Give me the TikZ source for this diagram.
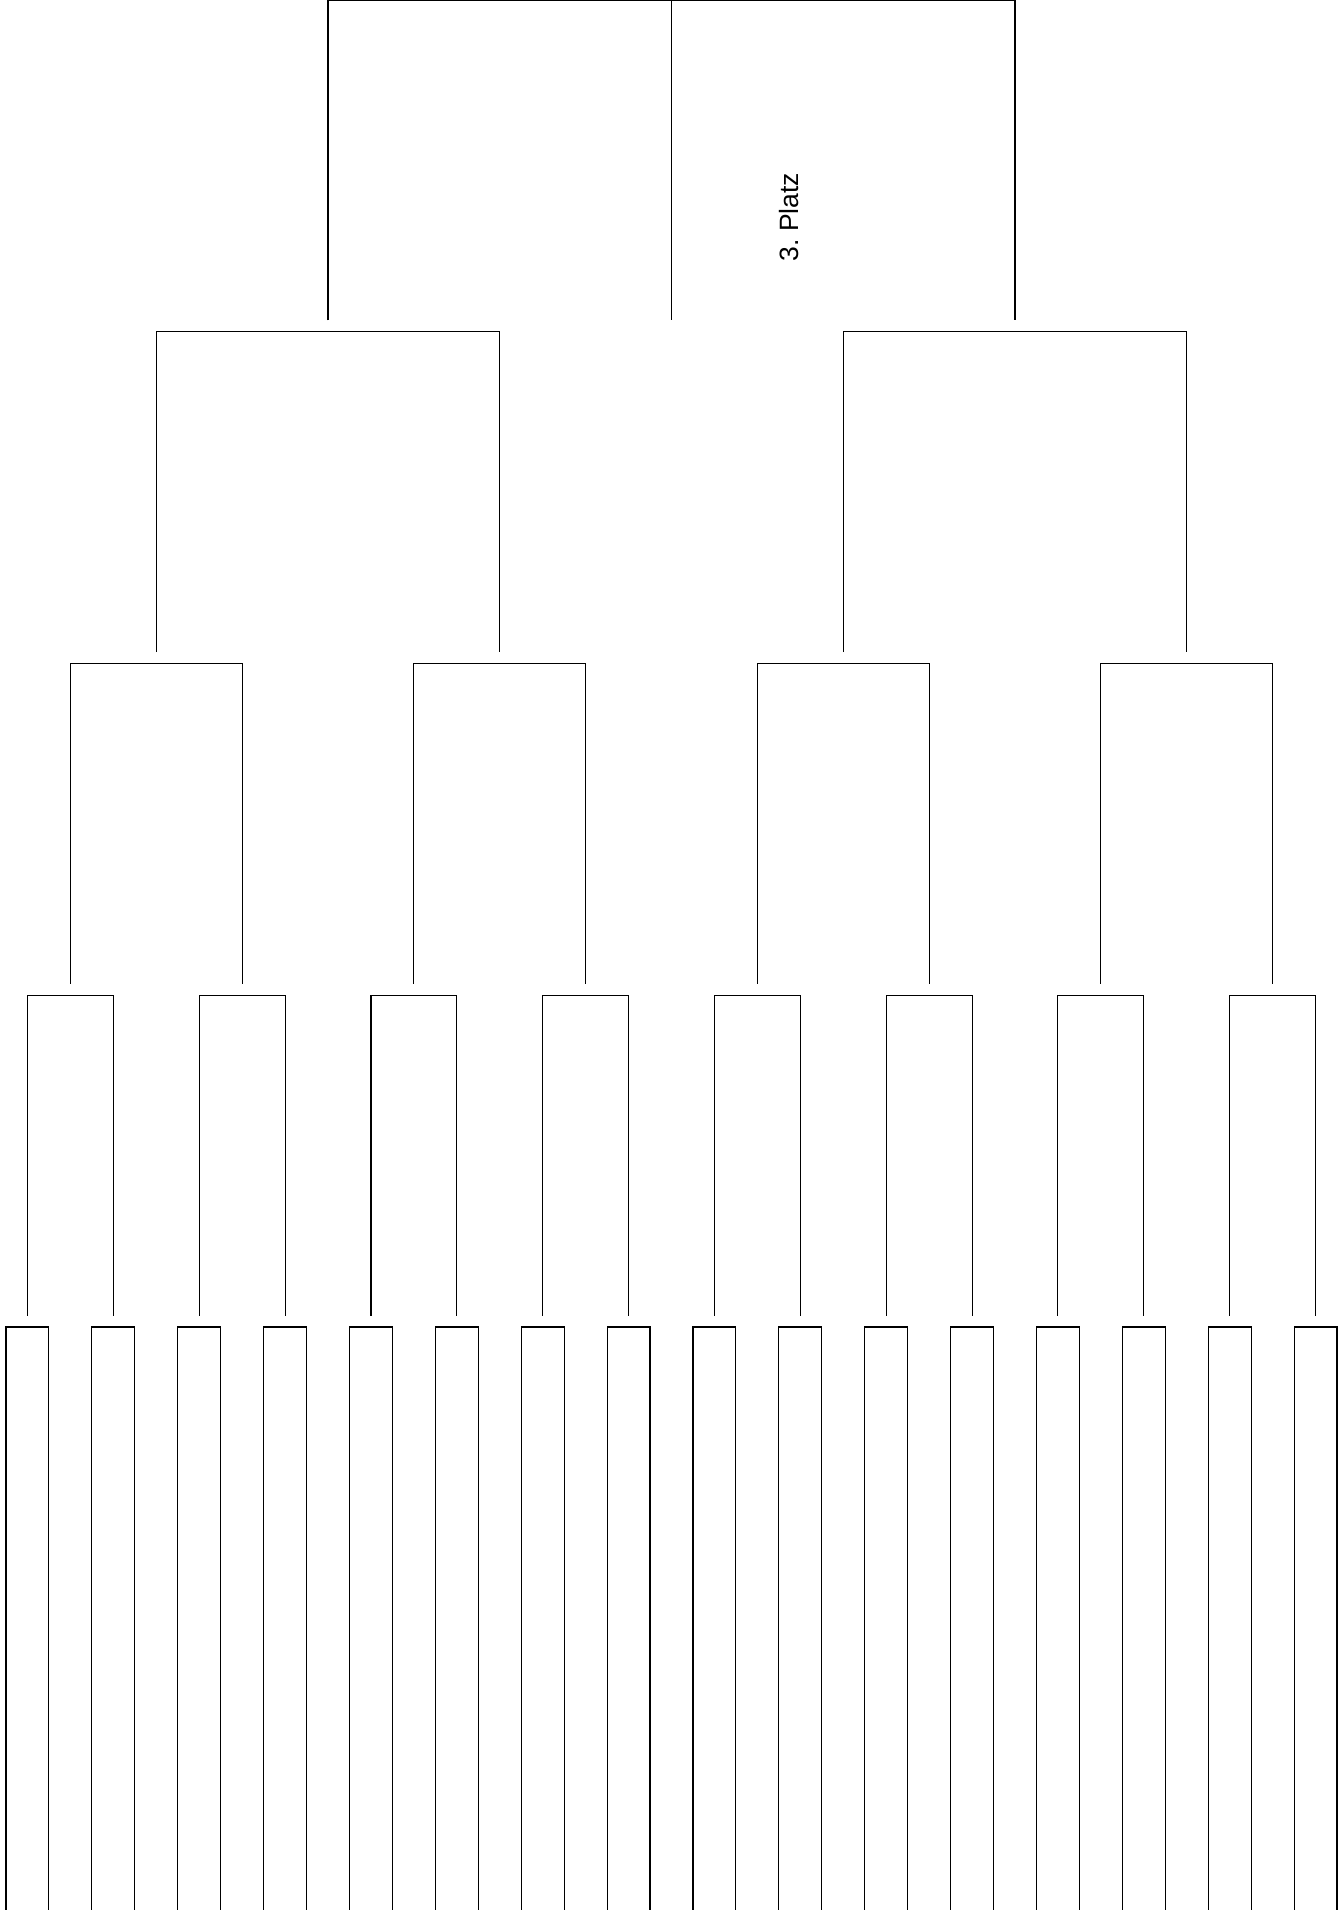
\documentclass[tikz,border=0pt]{standalone}
\usepackage{fontspec}
\setmainfont{Liberation Sans}
\begin{document}
\frenchspacing
\begin{tikzpicture}[x=1pt,y=-1pt,
  bracket/.style={line width=1.1pt, black, line join=miter},
  label/.style={rotate=90, font=\fontsize{26.5}{30}\selectfont, inner sep=0pt}]
\useasboundingbox (0,0) rectangle (1343,1910);
\def\s{42.935}
\foreach \L in {1,...,5}{
  \pgfmathtruncatemacro\n{2^(6-\L)}
  \pgfmathtruncatemacro\m{2^(\L-1)-1}
  \pgfmathsetmacro\ytop{(\L-1)*331.75+(\L==1 ? 0.6 : 0)}
  \pgfmathsetmacro\ybot{\L==5 ? 1910 : \L*331.75-11.5}
  \foreach \j in {0,...,\m}{
    \pgfmathsetmacro\xl{6+\s*(\j*\n+(\n/2-1)/2)}
    \pgfmathsetmacro\xr{6+\s*(\j*\n+\n/2+(\n/2-1)/2)}
    \coordinate (b\L-\j-bl) at (\xl,\ybot);
    \coordinate (b\L-\j-tl) at (\xl,\ytop);
    \coordinate (b\L-\j-tr) at (\xr,\ytop);
    \coordinate (b\L-\j-br) at (\xr,\ybot);
    \draw[bracket] (b\L-\j-bl) -- (b\L-\j-tl) -- (b\L-\j-tr) -- (b\L-\j-br);
  }
}
\coordinate (mid-top) at (671.5,0.6);
\coordinate (mid-bot) at (671.5,320);
\draw[bracket] (mid-top) -- (mid-bot);
\node[label] (platz) at (789,217) {3. Platz};
\end{tikzpicture}
\end{document}
